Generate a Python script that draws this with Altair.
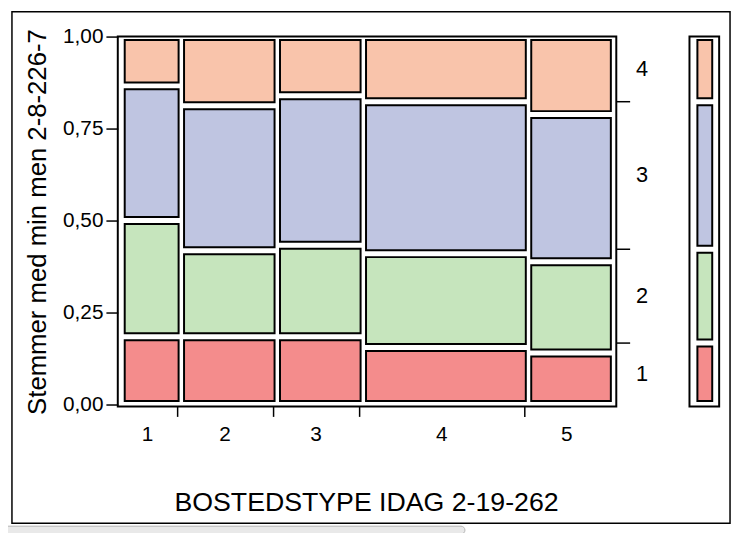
import altair as alt
import pandas as pd

# ---- data ----
columns = ["1", "2", "3", "4", "5"]
col_widths = [0.1207, 0.1952, 0.1750, 0.3361, 0.1730]
levels = ["1", "2", "3", "4"]
share_1 = [0.184, 0.184, 0.184, 0.155, 0.140]
share_2 = [0.316, 0.234, 0.249, 0.255, 0.248]
share_3 = [0.366, 0.394, 0.406, 0.413, 0.400]
share_4 = [0.134, 0.188, 0.161, 0.177, 0.212]
marginal = [0.167, 0.255, 0.401, 0.177]
y_ticks = [0, 0.25, 0.5, 0.75, 1.0]
level_colors = ["#f48c8c", "#c6e5bd", "#bfc5e1", "#f9c4ab"]

FONT = "Liberation Sans, Arial, Helvetica, sans-serif"
W, H = 497, 372

# ---- build tables ----
shares = [share_1, share_2, share_3, share_4]
cells, col_rows, bounds = [], [], []
x0 = 0.0
for i, c in enumerate(columns):
    x1 = x0 + col_widths[i]
    y0 = 0.0
    for j, lv in enumerate(levels):
        y1 = y0 + shares[j][i]
        if j == len(levels) - 1:
            y1 = 1.0
        cells.append({"col": c, "level": lv, "x0": x0, "x1": x1, "y0": y0, "y1": y1})
        y0 = y1
    col_rows.append({"col": c, "xm": (x0 + x1) / 2})
    if i < len(columns) - 1:
        bounds.append(x1)
    x0 = x1
cells = pd.DataFrame(cells)
col_df = pd.DataFrame(col_rows)

marg_rows, m0 = [], 0.0
for j, lv in enumerate(levels):
    m1 = m0 + marginal[j] if j < len(levels) - 1 else 1.0
    marg_rows.append({"level": lv, "m0": m0, "m1": m1, "mm": (m0 + m1) / 2})
    m0 = m1
marg = pd.DataFrame(marg_rows)
marg_bounds = marg.iloc[:-1]

one = pd.DataFrame({"k": [0]})

xscale = alt.Scale(domain=[0, 1], nice=False, zero=False)
yscale = alt.Scale(domain=[0, 1], nice=False, zero=False)
fillscale = alt.Scale(domain=levels, range=level_colors)

frame = alt.Chart(one).mark_rect(filled=False, stroke="black", strokeWidth=1.5).encode(
    x=alt.value(-107), x2=alt.value(619), y=alt.value(-25), y2=alt.value(492)
)
tab = alt.Chart(one).mark_rect(fill="#e9e9e9", stroke="#b5b5b5", strokeWidth=1, cornerRadius=4).encode(
    x=alt.value(-115), x2=alt.value(351), y=alt.value(495), y2=alt.value(503)
)

cell_layer = alt.Chart(cells).mark_rect(
    stroke="black", strokeWidth=2, xOffset=7, x2Offset=1.5, yOffset=-3.5, y2Offset=3.5
).encode(
    x=alt.X("x0:Q", scale=xscale, axis=alt.Axis(
        values=bounds, labels=False, domain=False, grid=False, tickSize=10, tickWidth=1.5,
        tickColor="black", offset=2, title="BOSTEDSTYPE IDAG 2-19-262",
        titleFont=FONT, titleFontSize=27, titleFontWeight="normal", titleColor="black",
        titleX=251, titleY=97, titleBaseline="middle", titleAlign="center")),
    x2="x1:Q",
    y=alt.Y("y0:Q", scale=yscale, axis=alt.Axis(
        values=y_ticks, labelExpr="replace(format(datum.value, '.2f'), '.', ',')",
        domain=False, grid=False, tickSize=12, tickWidth=1.5, tickColor="black",
        labelPadding=3, labelFont=FONT, labelFontSize=21, labelColor="black",
        title="Stemmer med min men 2-8-226-7", titleFont=FONT, titleFontSize=26,
        titleFontWeight="normal", titleColor="black", titleAngle=270,
        titleX=-81, titleY=187, titleBaseline="middle", titleAlign="center")),
    y2="y1:Q",
    fill=alt.Color("level:N", scale=fillscale, legend=None),
)

box = alt.Chart(one).mark_rect(filled=False, stroke="black", strokeWidth=2).encode(
    x=alt.value(0), x2=alt.value(504), y=alt.value(0), y2=alt.value(374)
)

col_labels = alt.Chart(col_df).mark_text(font=FONT, fontSize=21, color="black", baseline="middle").encode(
    x=alt.X("xm:Q", scale=xscale), y=alt.value(403), text="col:N"
)

right_ticks = alt.Chart(marg_bounds).mark_rule(color="black", strokeWidth=1.5).encode(
    y=alt.Y("m1:Q", scale=yscale), x=alt.value(504), x2=alt.value(518)
)
right_labels = alt.Chart(marg).mark_text(font=FONT, fontSize=22, color="black", baseline="middle").encode(
    y=alt.Y("mm:Q", scale=yscale), x=alt.value(530), text="level:N"
)

legend_box = alt.Chart(one).mark_rect(filled=False, stroke="black", strokeWidth=2).encode(
    x=alt.value(578), x2=alt.value(608), y=alt.value(0), y2=alt.value(374)
)
legend_cells = alt.Chart(marg).mark_rect(stroke="black", strokeWidth=2, yOffset=-3.5, y2Offset=3.5).encode(
    y=alt.Y("m0:Q", scale=yscale), y2="m1:Q", x=alt.value(586), x2=alt.value(601),
    fill=alt.Color("level:N", scale=fillscale, legend=None),
)

chart = alt.layer(
    tab, frame, cell_layer, box, col_labels, right_ticks, right_labels, legend_box, legend_cells
).properties(
    width=W, height=H,
    autosize=alt.AutoSizeParams(type="none"),
    padding={"left": 111, "top": 26, "right": 125, "bottom": 127},
    background="white",
).configure_view(stroke=None)

chart.save("out.html", embed_options={"renderer": "svg", "actions": False})
